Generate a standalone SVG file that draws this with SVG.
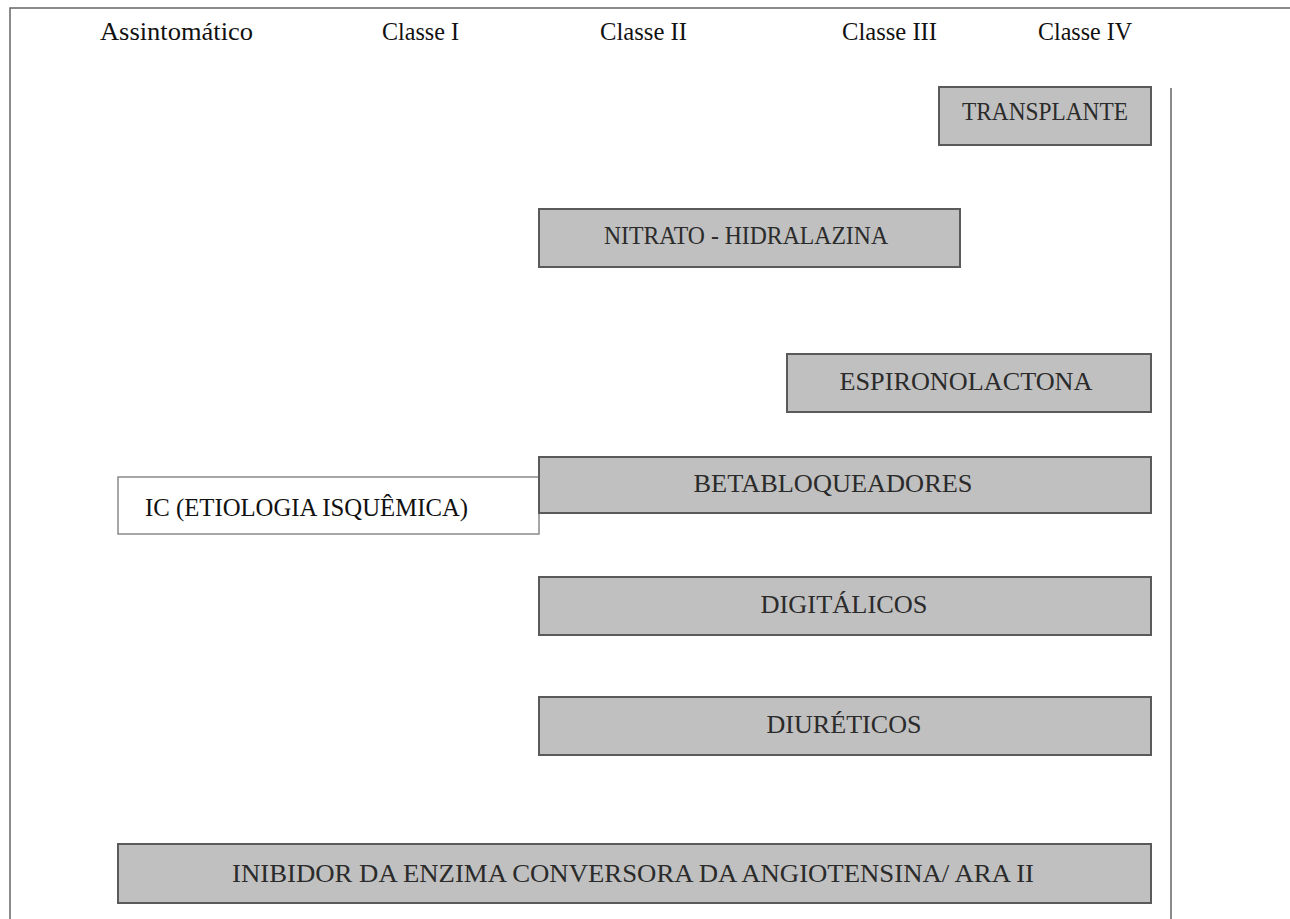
<svg xmlns="http://www.w3.org/2000/svg" width="1290" height="919" viewBox="0 0 1290 919">
<style>
.hdr{font-family:"Liberation Serif","Times New Roman",serif;font-size:25px;fill:#111}
.box{fill:#c0c0c0;stroke:#5a5a5a;stroke-width:2}
.lbl{font-family:"Liberation Serif","Times New Roman",serif;font-size:25px;fill:#2b2b2b;text-anchor:middle}
.ic{fill:#ffffff;stroke:#8a8a8a;stroke-width:1.5}
.frame{stroke:#666;stroke-width:1.5;fill:none}
</style>
<rect width="1290" height="919" fill="#ffffff"/>
<g id="frame">
<path class="frame" d="M10 919 V8 H1290"/>
<line x1="1171" y1="88" x2="1171" y2="919" stroke="#8a8a8a" stroke-width="2"/>
</g>
<g id="headers">
<text class="hdr" x="100" y="40" textLength="153" lengthAdjust="spacingAndGlyphs">Assintomático</text>
<text class="hdr" x="382" y="40" textLength="77" lengthAdjust="spacingAndGlyphs">Classe I</text>
<text class="hdr" x="600" y="40" textLength="87" lengthAdjust="spacingAndGlyphs">Classe II</text>
<text class="hdr" x="842" y="40" textLength="95" lengthAdjust="spacingAndGlyphs">Classe III</text>
<text class="hdr" x="1038" y="40" textLength="94" lengthAdjust="spacingAndGlyphs">Classe IV</text>
</g>
<g id="connectors"></g>
<g id="transplante">
<rect class="box" x="939" y="87" width="212" height="58"/>
<text class="lbl" x="1045" y="120" textLength="166" lengthAdjust="spacingAndGlyphs">TRANSPLANTE</text>
</g>
<g id="nitrato">
<rect class="box" x="539" y="209" width="421" height="58"/>
<text class="lbl" x="746" y="244" textLength="284" lengthAdjust="spacingAndGlyphs">NITRATO - HIDRALAZINA</text>
</g>
<g id="espironolactona">
<rect class="box" x="787" y="354" width="364" height="58"/>
<text class="lbl" x="966" y="390" textLength="253" lengthAdjust="spacingAndGlyphs">ESPIRONOLACTONA</text>
</g>
<g id="ic">
<rect class="ic" x="118" y="477" width="421" height="57"/>
<text class="hdr" x="145" y="516" textLength="323" lengthAdjust="spacingAndGlyphs">IC (ETIOLOGIA ISQUÊMICA)</text>
</g>
<g id="betabloqueadores">
<rect class="box" x="539" y="457" width="612" height="56"/>
<text class="lbl" x="833" y="492" textLength="279" lengthAdjust="spacingAndGlyphs">BETABLOQUEADORES</text>
</g>
<g id="digitalicos">
<rect class="box" x="539" y="577" width="612" height="58"/>
<text class="lbl" x="844" y="613" textLength="167" lengthAdjust="spacingAndGlyphs">DIGITÁLICOS</text>
</g>
<g id="diureticos">
<rect class="box" x="539" y="697" width="612" height="58"/>
<text class="lbl" x="844" y="733" textLength="155" lengthAdjust="spacingAndGlyphs">DIURÉTICOS</text>
</g>
<g id="inibidor">
<rect class="box" x="118" y="844" width="1033" height="59"/>
<text class="lbl" x="633" y="882" textLength="802" lengthAdjust="spacingAndGlyphs">INIBIDOR DA ENZIMA CONVERSORA DA ANGIOTENSINA/ ARA II</text>
</g>
</svg>
